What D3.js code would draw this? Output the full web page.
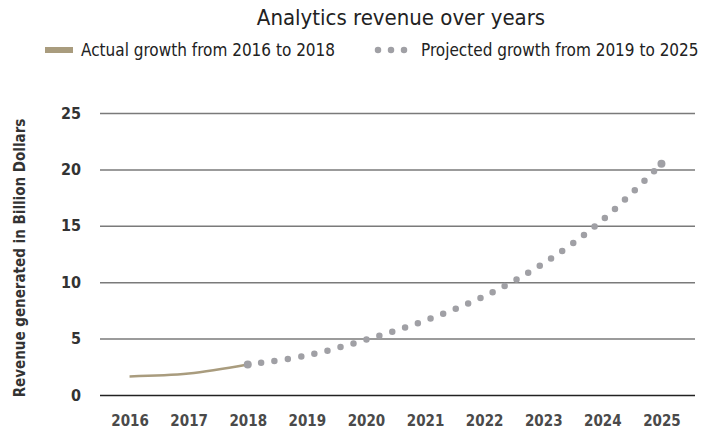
<!DOCTYPE html>
<html lang="en">
<head>
<meta charset="UTF-8">
<title>Analytics revenue over years</title>
<script src="https://cdn.jsdelivr.net/npm/d3@7"></script>
<style>
  body { margin: 0; background: #fff; }
  text { font-family: "DejaVu Sans Condensed", "Liberation Sans Narrow", sans-serif; }
</style>
</head>
<body>
<div id="container"></div>
<script>
    // data
    const years = ["2016","2017","2018","2019","2020","2021","2022","2023","2024","2025"];
    const actualYears = ["2016","2017","2018"];
    const actualValues = [1.65, 1.9, 2.7];
    const projectedYears = ["2018","2019","2020","2021","2022","2023","2024","2025"];
    const projectedValues = [2.7, 3.5, 4.9, 6.6, 8.75, 11.65, 15.5, 20.5];
    const yTicks = [0, 5, 10, 15, 20, 25];

    const width = 704, height = 434;
    const margin = {top: 113, right: 9, bottom: 39, left: 100};

    const svg = d3.select("#container")
        .append("svg")
        .attr("width", width)
        .attr("height", height);

    const xScale = d3.scalePoint().domain(years).range([margin.left, width - margin.right - 4]).padding(0.5);
    const yScale = d3.scaleLinear().domain([0, 25]).range([height - margin.bottom, margin.top]);

    // title
    svg.append("text")
        .attr("x", 401).attr("y", 25)
        .attr("text-anchor", "middle")
        .attr("font-size", 22)
        .attr("fill", "#222")
        .text("Analytics revenue over years");

    // gridlines
    const grid = svg.append("g")
        .attr("transform", `translate(${margin.left},0)`)
        .call(d3.axisLeft(yScale).tickValues(yTicks).tickSize(-(width - margin.right - margin.left)).tickFormat(""));
    grid.select(".domain").remove();
    grid.selectAll(".tick line")
        .attr("stroke", d => d === 0 ? "#222" : "#7a7a7a")
        .attr("stroke-width", 1.5);

    // y tick labels
    const yAxis = svg.append("g")
        .attr("transform", `translate(81,0)`)
        .call(d3.axisLeft(yScale).tickValues(yTicks).tickSize(0).tickPadding(0));
    yAxis.select(".domain").remove();
    yAxis.selectAll("text")
        .attr("font-size", 16)
        .attr("font-weight", "bold")
        .attr("fill", "#333");

    // x tick labels
    const xAxis = svg.append("g")
        .attr("transform", `translate(0,${height - margin.bottom})`)
        .call(d3.axisBottom(xScale).tickSize(0).tickPadding(20));
    xAxis.select(".domain").remove();
    xAxis.selectAll("text")
        .attr("font-size", 15)
        .attr("font-weight", "bold")
        .attr("fill", "#4a4a4a");

    // y axis label
    svg.append("text")
        .attr("transform", `translate(25,${(margin.top + height - margin.bottom) / 2 + 4}) rotate(-90)`)
        .attr("text-anchor", "middle")
        .attr("font-size", 15)
        .attr("font-weight", "bold")
        .attr("fill", "#333")
        .text("Revenue generated in Billion Dollars");

    // lines
    const lineGen = d3.line()
        .x(d => xScale(d[0]))
        .y(d => yScale(d[1]))
        .curve(d3.curveCatmullRom.alpha(0.5));

    svg.append("path")
        .attr("d", lineGen(d3.zip(actualYears, actualValues)))
        .attr("fill", "none")
        .attr("stroke", "#a99c7e")
        .attr("stroke-width", 2.5);

    const projected = d3.zip(projectedYears, projectedValues);
    svg.append("path")
        .attr("d", lineGen(projected))
        .attr("fill", "none")
        .attr("stroke", "#a0a0a5")
        .attr("stroke-width", 6.5)
        .attr("stroke-linecap", "round")
        .attr("stroke-dasharray", "0 13.5");

    // bigger dots at the two ends of the projection
    svg.selectAll(".endDot")
        .data([projected[0], projected[projected.length - 1]])
        .enter()
        .append("circle")
        .attr("class", "endDot")
        .attr("cx", d => xScale(d[0]))
        .attr("cy", d => yScale(d[1]))
        .attr("r", 4)
        .attr("fill", "#a0a0a5");

    // legend
    const legend = svg.append("g").attr("class", "legend");
    legend.append("rect")
        .attr("x", 45).attr("y", 47)
        .attr("width", 28).attr("height", 6)
        .attr("fill", "#a99c7e");
    legend.append("text")
        .attr("x", 81).attr("y", 56)
        .attr("font-size", 17)
        .attr("fill", "#222")
        .text("Actual growth from 2016 to 2018");
    legend.append("line")
        .attr("x1", 378).attr("x2", 406)
        .attr("y1", 50).attr("y2", 50)
        .attr("stroke", "#a0a0a5")
        .attr("stroke-width", 6.5)
        .attr("stroke-linecap", "round")
        .attr("stroke-dasharray", "0 13");
    legend.append("text")
        .attr("x", 421).attr("y", 56)
        .attr("font-size", 17)
        .attr("fill", "#222")
        .text("Projected growth from 2019 to 2025");
</script>
</body>
</html>
